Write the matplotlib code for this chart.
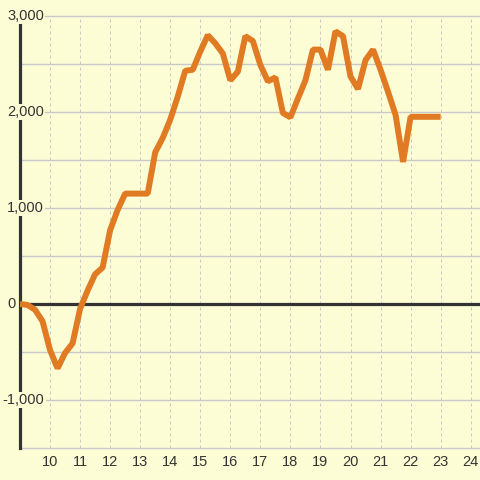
import matplotlib
matplotlib.use("Agg")
import matplotlib.pyplot as plt
import matplotlib.transforms as mtransforms
import numpy as np

# ---- data ----
x_start = 9.0
x_step = 0.25
values = [0, -10, -60, -180, -480, -670, -510, -410, -50, 140, 310, 380,
          770, 980, 1150, 1150, 1150, 1150, 1580, 1730, 1920, 2160, 2430,
          2440, 2630, 2800, 2715, 2610, 2330, 2420, 2790, 2740, 2490, 2320,
          2360, 1990, 1945, 2140, 2330, 2650, 2650, 2440, 2840, 2790, 2370,
          2240, 2540, 2650, 2440, 2210, 1970, 1480, 1950, 1950, 1950, 1950,
          1950]
x_ticks = list(range(10, 25))
y_label_vals = [3000, 2000, 1000, 0, -1000]
y_grid_vals = list(range(-1500, 3001, 500))

xs = x_start + x_step * np.arange(len(values))

bg = "#fdfdd5"
orange = "#e07b24"
dark = "#333333"
grid = "#c9c9c9"

plt.rcParams['font.family'] = ['Liberation Sans', 'DejaVu Sans']

fig = plt.figure(figsize=(4.8, 4.8), dpi=100)
fig.patch.set_facecolor(bg)
ax = fig.add_axes([20 / 480, 1 - 448 / 480, 460 / 480, 432 / 480])
ax.set_facecolor(bg)
ax.set_xlim(9, 24.31)
ax.set_ylim(-1500, 3000)
for s in ax.spines.values():
    s.set_visible(False)
ax.set_yticks([])
ax.set_xticks(x_ticks)
ax.set_xticklabels([str(t) for t in x_ticks], fontsize=10.5, color=dark)
ax.tick_params(axis='x', length=0, pad=5)

# gridlines
for yv in y_grid_vals:
    ax.axhline(yv, color=grid, lw=1.0, zorder=1, clip_on=False)
for xv in x_ticks:
    ax.axvline(xv, color=grid, lw=0.72, linestyle=(0, (3, 3)), zorder=1)

# axis lines
ax.axvline(9, color=dark, lw=2.3, zorder=2, clip_on=False)
ax.axhline(0, color=dark, lw=2.3, zorder=2)

# y labels
trans = mtransforms.blended_transform_factory(fig.transFigure, ax.transData)
for yv in y_label_vals:
    txt = f"{yv:,}"
    xpos = 7 / 480 if yv >= 0 else 2.5 / 480
    ax.text(xpos, yv, txt, transform=trans, ha='left', va='center',
            fontsize=10.5, color=dark, zorder=3,
            bbox=dict(facecolor=bg, edgecolor='none', pad=1.0),
            clip_on=False)

ax.plot(xs, values, color=orange, lw=4.3, solid_joinstyle='bevel',
        solid_capstyle='butt', zorder=4)

fig.savefig("out.png", dpi=100, facecolor=bg)
